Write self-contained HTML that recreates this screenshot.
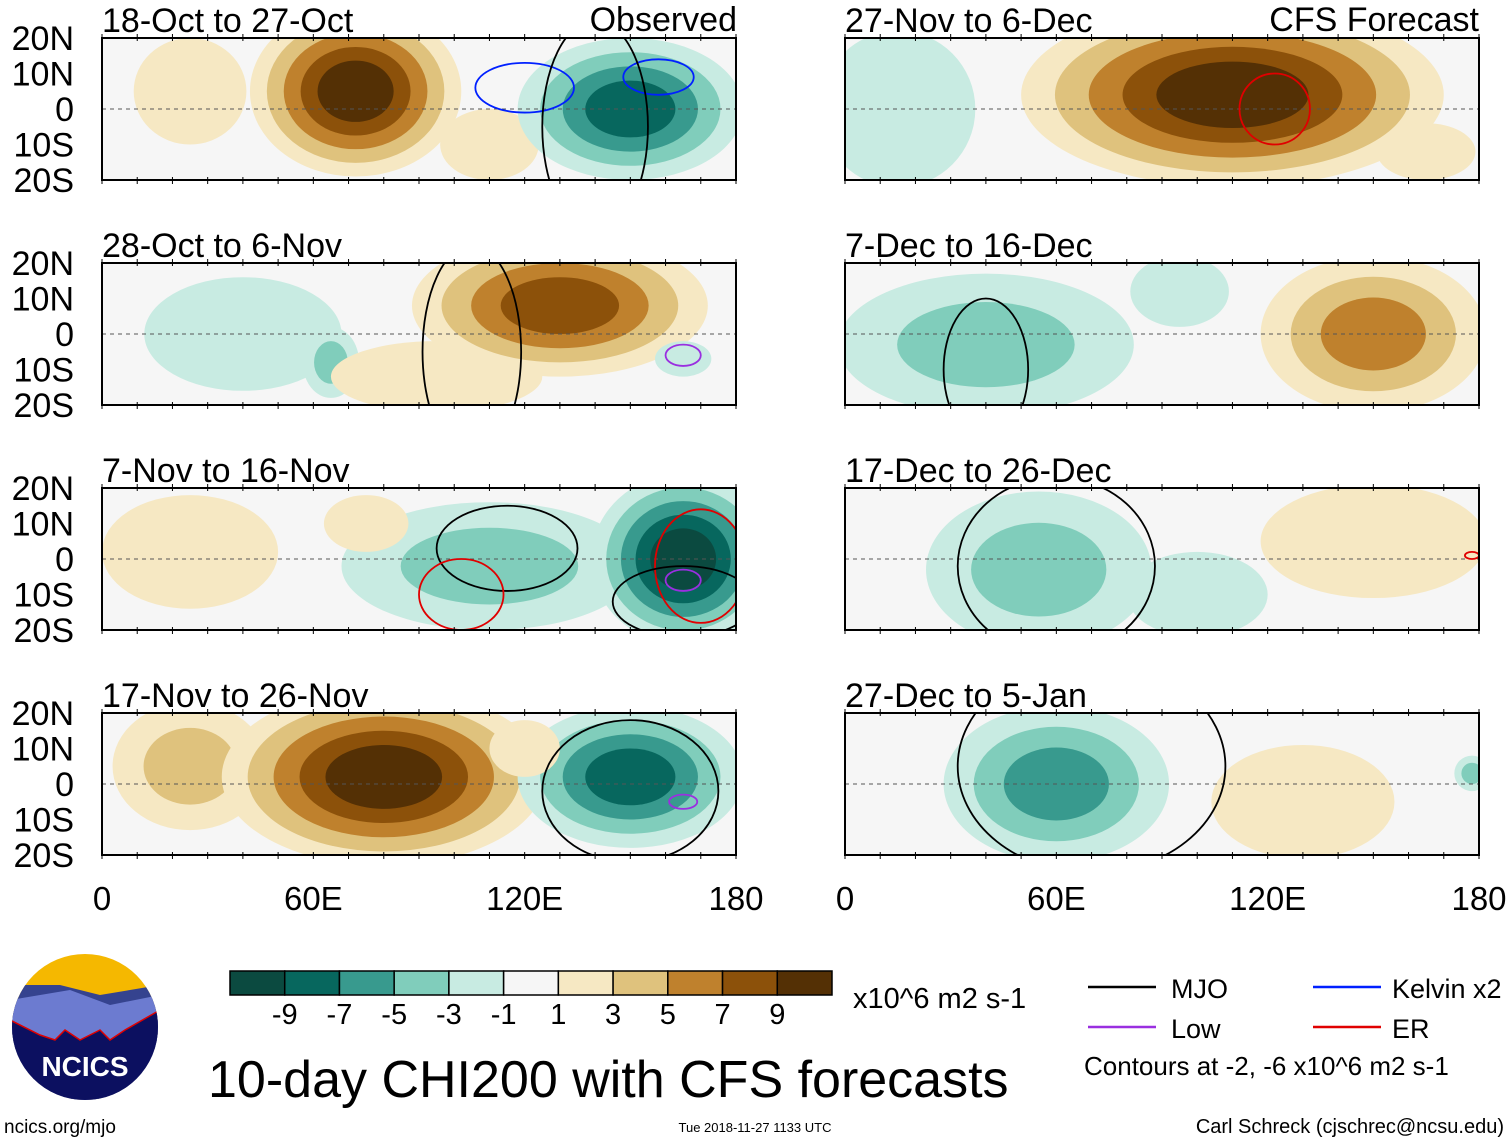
<!DOCTYPE html>
<html><head><meta charset="utf-8"><style>
body{margin:0;background:#fff;width:1510px;height:1142px;overflow:hidden;font-family:"Liberation Sans",sans-serif}
svg{display:block}
</style></head><body>
<svg id="fig" width="1510" height="1142" xmlns="http://www.w3.org/2000/svg" font-family="Liberation Sans, sans-serif"></svg>
<script>
const NS="http://www.w3.org/2000/svg";
const levelColors=["#0b4a40","#07675e","#389a8e","#80cdbb","#c8ebe2","#f6f6f6","#f6e8c3","#dfc27d","#bf812d","#8c510a","#543005"];
const levelLabels=["-9","-7","-5","-3","-1","1","3","5","7","9"];
const panelTitles=["18-Oct to 27-Oct","28-Oct to 6-Nov","7-Nov to 16-Nov","17-Nov to 26-Nov","27-Nov to 6-Dec","7-Dec to 16-Dec","17-Dec to 26-Dec","27-Dec to 5-Jan"];
const latTicks=["20N","10N","0","10S","20S"];
const lonTicks=["0","60E","120E","180"];
// blobs: [lon, lat, rxDeg, ryDeg, level]
const blobs0=[[25,5,16,15,1],[110,-10,14,10,1],[72,5,30,24,5],[150,0,32,20,-4]];
const blobs1=[[40,0,28,16,-1],[65,-8,8,10,-2],[95,-12,30,10,1],[130,8,42,20,4],[165,-7,8,5,-1]];
const blobs2=[[25,2,25,16,1],[110,-2,42,18,-2],[75,10,12,8,1],[165,0,26,24,-5]];
const blobs3=[[25,5,22,18,2],[80,2,46,25,5],[150,2,32,20,-4],[120,10,10,8,1]];
const blobs4=[[15,0,22,22,-1],[110,4,60,26,5],[165,-12,14,8,1]];
const blobs5=[[40,-3,42,20,-2],[95,12,14,10,-1],[150,0,32,22,3]];
const blobs6=[[55,-3,32,22,-2],[150,5,32,16,1],[100,-10,20,12,-1]];
const blobs7=[[60,0,32,22,-3],[130,-5,26,16,1],[178,3,5,5,-2]];
const allBlobs=[blobs0,blobs1,blobs2,blobs3,blobs4,blobs5,blobs6,blobs7];
// contours: [lon, lat, rxDeg, ryDeg, color]
const contours=[[[120,6,14,7,"#0020ff"],[158,9,10,5,"#0020ff"],[140,-5,15,30,"#000"]],
 [[165,-6,5,3,"#9a2fe0"],[105,-5,14,30,"#000"]],
 [[115,3,20,12,"#000"],[102,-10,12,10,"#e00000"],[170,-2,13,16,"#e00000"],[165,-6,5,3,"#9a2fe0"],[165,-12,20,10,"#000"]],
 [[150,-2,25,20,"#000"],[165,-5,4,2,"#9a2fe0"]],
 [[122,0,10,10,"#e00000"]],[[40,-10,12,20,"#000"]],[[60,-2,28,25,"#000"],[178,1,2,1,"#e00000"]],[[70,5,38,30,"#000"]]];
const panelX=[102,845],panelY=[38,263,488,713],PW=634,PH=142;
function el(t,a,p){const e=document.createElementNS(NS,t);for(const k in a)e.setAttribute(k,a[k]);(p||svg).appendChild(e);return e;}
const svg=document.getElementById("fig");
const defs=el("defs",{});
function colorFor(l){return levelColors[5+l];}
for(let i=0;i<8;i++){
 const col=Math.floor(i/4),row=i%4;
 const x0=panelX[col],y0=panelY[row];
 const lonX=lon=>x0+lon/180*PW, latY=lat=>y0+(20-lat)/40*PH;
 const cp=el("clipPath",{id:"c"+i},defs);el("rect",{x:x0,y:y0,width:PW,height:PH},cp);
 const g=el("g",{"clip-path":"url(#c"+i+")"});
 
 
 el("rect",{x:x0,y:y0,width:PW,height:PH,fill:levelColors[5]},g);
 allBlobs[i].forEach(b=>{const n=Math.abs(b[4]),s=Math.sign(b[4]);
  for(let k=1;k<=n;k++){const f=1-(k-1)/n*0.8;
   const e=el("ellipse",{cx:lonX(b[0]),cy:latY(b[1]),rx:b[2]*f*PW/180,ry:b[3]*f*PH/40,fill:colorFor(s*k)},g);
   }});
 el("line",{x1:x0,y1:latY(0),x2:x0+PW,y2:latY(0),stroke:"#555","stroke-dasharray":"4,4","stroke-width":1},g);
 contours[i].forEach(c=>{const e=el("ellipse",{cx:lonX(c[0]),cy:latY(c[1]),rx:c[2]*PW/180,ry:c[3]*PH/40,fill:"none",stroke:c[4],"stroke-width":1.8},g);
  });
 const fr=el("rect",{x:x0,y:y0,width:PW,height:PH,fill:"none",stroke:"#000","stroke-width":2});
 
 for(let l=0;l<=180;l+=10){el("line",{x1:lonX(l),y1:y0-4,x2:lonX(l),y2:y0+3,stroke:"#000"});el("line",{x1:lonX(l),y1:y0+PH-3,x2:lonX(l),y2:y0+PH+4,stroke:"#000"});}
 const t=el("text",{x:x0,y:y0-6,"font-size":34});t.textContent=panelTitles[i];
 
 if(col===0){latTicks.forEach((lt,j)=>{const tt=el("text",{x:74,y:y0+j*PH/4+12,"font-size":34,"text-anchor":"end"});tt.textContent=lt;
  });}
 if(row===3){lonTicks.forEach((lt,j)=>{const tt=el("text",{x:x0+j*PW/3,y:910,"font-size":33,"text-anchor":"middle"});tt.textContent=lt;
  });}
}
[["Observed",737,31],["CFS Forecast",1479,31]].forEach(a=>{const t=el("text",{x:a[1],y:a[2],"font-size":34,"text-anchor":"end"});t.textContent=a[0];
 });
// colorbar
const cbX=230,cbW=602,bw=cbW/levelColors.length;
levelColors.forEach((c,j)=>{const r=el("rect",{x:cbX+j*bw,y:971,width:bw,height:24,fill:c,stroke:"#000","stroke-width":1.5});
 });
levelLabels.forEach((l,j)=>{const t=el("text",{x:cbX+(j+1)*bw,y:1024,"font-size":29,"text-anchor":"middle"});t.textContent=l;
 });
function txt(s,x,y,fs,name,anchor){const t=el("text",{x:x,y:y,"font-size":fs,"text-anchor":anchor||"start"});t.textContent=s;return t;}
txt("x10^6 m2 s-1",853,1008,29,"units-label");
txt("10-day CHI200 with CFS forecasts",208,1097,52,"figure-title");
txt("ncics.org/mjo",4,1133,19,"website-label");
txt("Tue 2018-11-27 1133 UTC",755,1132,13,"timestamp","middle");
txt("Carl Schreck (cjschrec@ncsu.edu)",1504,1133,20,"author-label","end");
txt("Contours at -2, -6 x10^6 m2 s-1",1084,1075,26,"contour-note");
[["MJO","#000",1088,1171,988],["Low","#9a2fe0",1088,1171,1028],["Kelvin x2","#0020ff",1313,1392,988],["ER","#e00000",1313,1392,1028]].forEach(a=>{
 const l=el("line",{x1:a[2],y1:a[4]-1,x2:a[2]+68,y2:a[4]-1,stroke:a[1],"stroke-width":2.5});
 txt(a[0],a[3],a[4]+10,27,"legend-entry");});
// logo
const lg=el("g",{});
const lcp=el("clipPath",{id:"lc"},defs);el("circle",{cx:85,cy:1027,r:73},lcp);
const lgi=el("g",{"clip-path":"url(#lc)"},lg);
el("rect",{x:10,y:950,width:150,height:160,fill:"#f5b800"},lgi);
el("path",{d:"M10 985 L60 985 L100 995 L160 985 L160 1110 L10 1110Z",fill:"#35438f"},lgi);
el("path",{d:"M10 1000 L70 990 L110 1005 L160 995 L160 1110 L10 1110Z",fill:"#6c7bd0"},lgi);
el("path",{d:"M10 1020 L40 1035 L55 1040 L65 1030 L80 1040 L100 1030 L110 1040 L125 1030 L160 1010 L160 1110 L10 1110Z",fill:"#0c1060",stroke:"#e00000","stroke-width":1.5},lgi);
const lt=el("text",{x:85,y:1076,"font-size":28,"font-weight":"bold",fill:"#fff","text-anchor":"middle"},lg);lt.textContent="NCICS";
</script>
</body></html>
